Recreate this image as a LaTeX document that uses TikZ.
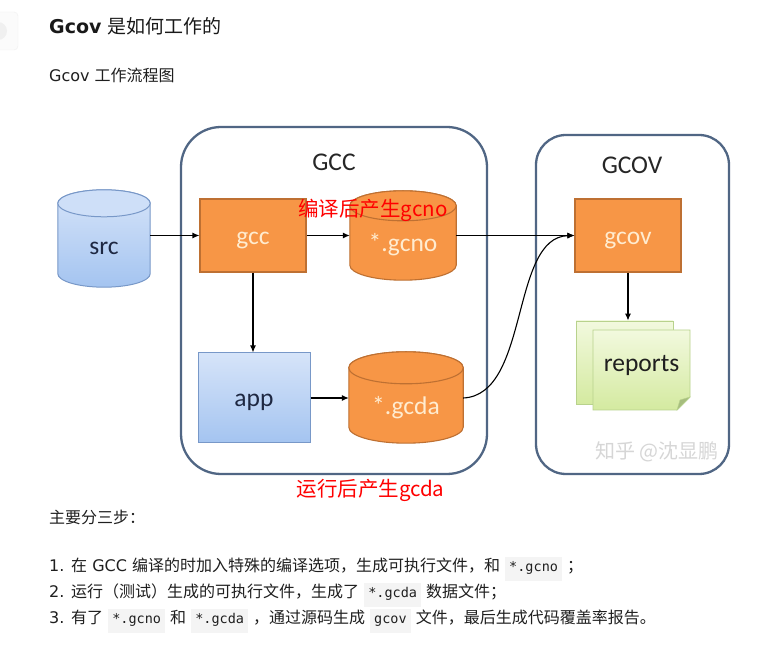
\documentclass[tikz,border=0pt]{standalone}
\usepackage{fontspec}
\setmainfont{DejaVu Sans}
\setmonofont{DejaVu Sans Mono}
\newfontfamily\zhfont{Noto Sans CJK SC}
\newfontfamily\diafont{Carlito}
\usetikzlibrary{arrows.meta,calc}
\definecolor{framec}{RGB}{80,102,132}
\definecolor{orfill}{RGB}{247,150,70}
\definecolor{orline}{RGB}{190,112,50}
\definecolor{cream}{RGB}{255,236,208}
\definecolor{bluetop}{RGB}{214,228,249}
\definecolor{bluebot}{RGB}{164,196,240}
\definecolor{blueline}{RGB}{120,152,200}
\definecolor{navy}{RGB}{30,40,66}
\definecolor{greentop}{RGB}{242,249,222}
\definecolor{greenbot}{RGB}{212,234,160}
\definecolor{greenline}{RGB}{184,210,140}
\definecolor{codebg}{RGB}{244,244,244}
\definecolor{wmark}{RGB}{214,214,214}
\pgfdeclarelayer{back}\pgfdeclarelayer{bg}\pgfsetlayers{back,bg,main}
\newcommand\zh[1]{{\zhfont #1}}
\newcommand\code[1]{{\setlength{\fboxsep}{4pt}\colorbox{codebg}{\ttfamily\fontsize{13.5}{16}\selectfont\strut #1}}}
\newcommand\cyl[4]{%
  \begin{pgfonlayer}{bg}
  \path[#3] let \p1=(#1.north west), \p2=(#1.south east), \n1={(\x2-\x1)/2} in
    (\x1,\y1) -- (\x1,\y2+#2pt) arc[start angle=180,end angle=360,x radius=\n1,y radius=#2pt]
    -- (\x2,\y1) arc[start angle=0,end angle=180,x radius=\n1,y radius=#2pt] -- cycle;
  \path[#4] let \p1=(#1.north west), \p2=(#1.south east), \n1={(\x2-\x1)/2} in
    (\x1+\n1,\y1) ellipse[x radius=\n1,y radius=#2pt];
  \end{pgfonlayer}}
\tikzset{
  dtext/.style={font=\diafont\fontsize{25.5}{28}\selectfont},
  lowtext/.style={dtext, text height=18pt, text depth=0pt},
  container/.style={draw=framec, line width=2.3pt, inner sep=0},
  obox/.style={draw=orline, fill=orfill, line width=1.1pt, inner sep=0, lowtext, text=cream},
  bbox/.style={draw=blueline, top color=bluetop, bottom color=bluebot, line width=1pt, inner sep=0, lowtext, text=navy},
  cylnode/.style={inner sep=0, lowtext},
  arr/.style={line width=1.1pt, -{Latex[length=7pt,width=6pt]}},
  redlab/.style={font=\zhfont\fontsize{20.5}{24}\selectfont, text=red, inner sep=0},
  page/.style={anchor=base west, inner sep=0, font=\fontsize{16}{19}\selectfont, text=black!88},
}
\begin{document}
\begin{tikzpicture}[x=1pt,y=1pt]
\begin{pgfonlayer}{back}
\fill[white] (0,0) rectangle (772,646);
\end{pgfonlayer}
\useasboundingbox (0,0) rectangle (772,646);
% side button (clipped)
\node[draw=gray!12, fill=gray!3, rounded corners=4pt, minimum width=40, minimum height=38, inner sep=0] (sidebtn) at (-2,615) {};
\node[circle, fill=black!6, minimum size=18, inner sep=0] (sideicon) at (-2,615) {};
% page text
\node[anchor=west, inner sep=0, font=\fontsize{19}{22}\selectfont, text=black!90] (title) at (49,620) {{\bfseries Gcov} \zh{是如何工作的}};
\node[anchor=west, inner sep=0, font=\fontsize{16}{19}\selectfont, text=black!88] (subtitle) at (49,571) {Gcov \zh{工作流程图}};
% containers
\node[container, rounded corners=40pt, minimum width=306, minimum height=347] (gccbox) at (334,345.5) {};
\node[container, rounded corners=30pt, minimum width=193, minimum height=339] (gcovbox) at (632.5,341.5) {};
\node[dtext, text=black!85] (gcclabel) at (334,484) {GCC};
\node[dtext, text=black!85] (gcovlabel) at (632,481) {GCOV};
% src cylinder
\node[cylnode, text=navy, minimum width=92, minimum height=83.5] (src) at (104,400.75) {src};
\cyl{src}{13.5}{draw=blueline, line width=1pt, top color=bluetop, bottom color=bluebot}{draw=blueline, line width=1pt, fill=bluetop!85!bluebot}
% boxes
\node[obox, minimum width=106, minimum height=73] (gcc) at (253,410.5) {gcc};
\node[obox, minimum width=106, minimum height=73] (gcov) at (628,410.5) {gcov};
\node[bbox, minimum width=112, minimum height=90] (app) at (254,248) {app};
% gcno / gcda cylinders
\node[cylnode, text=cream, minimum width=106, minimum height=74] (gcno) at (403,403) {*.gcno};
\cyl{gcno}{15}{draw=orline, line width=1.1pt, fill=orfill}{draw=orline, line width=1.1pt, fill=orfill}
\node[cylnode, text=cream, minimum width=114, minimum height=75] (gcda) at (406,240.5) {*.gcda};
\cyl{gcda}{16}{draw=orline, line width=1.1pt, fill=orfill}{draw=orline, line width=1.1pt, fill=orfill}
% reports
\begin{pgfonlayer}{bg}
\node[draw=greenline, top color=greentop, bottom color=greenbot, line width=0.9pt, minimum width=97, minimum height=83, inner sep=0] (repback) at (624.5,283.5) {};
\path[draw=greenline, top color=greentop, bottom color=greenbot, line width=0.9pt]
  (593,316) -- (690,316) -- (690,249) -- (677,236) -- (593,236) -- cycle;
\path[fill=greenline!90!black, draw=greenline] (677,236) -- (680,246) -- (690,249) -- cycle;
\end{pgfonlayer}
\node[lowtext, text=black!88] (reports) at (641.5,283) {reports};
% connectors
\draw[arr] (src.east |- gcc.west) -- (gcc.west);
\draw[arr] (gcc.east) -- (gcc.east -| gcno.west);
\draw[arr] (gcno.east |- gcov.west) -- (gcov.west);
\draw[arr] (gcc.south) -- (gcc.south |- app.north);
\draw[arr] (app.east) -- (app.east -| gcda.west);
\draw[arr] (gcda.east |- app.east) .. controls (530,251) and (510,409) .. (gcov.west);
\draw[arr] (gcov.south) -- (gcov.south |- repback.north);
% red labels
\node[redlab] (lab1) at (373,436) {编译后产生gcno};
\node[redlab] (lab2) at (370.5,156) {运行后产生gcda};
% watermark
\node[font=\zhfont\fontsize{20}{24}\selectfont, text=wmark, inner sep=0] (wm) at (657,194) {知乎 @沈显鹏};
% steps
\node[page] (steps) at (49,122) {\zh{主要分三步：}};
\node[page] (s1) at (49,74) {1. \zh{在} GCC \zh{编译的时加入特殊的编译选项，生成可执行文件，和} \code{*.gcno} \zh{；}};
\node[page] (s2) at (49,48) {2. \zh{运行（测试）生成的可执行文件，生成了} \code{*.gcda} \zh{数据文件；}};
\node[page] (s3) at (49,22) {3. \zh{有了} \code{*.gcno} \zh{和} \code{*.gcda} \zh{，通过源码生成} \code{gcov} \zh{文件，最后生成代码覆盖率报告。}};
\end{tikzpicture}
\end{document}
